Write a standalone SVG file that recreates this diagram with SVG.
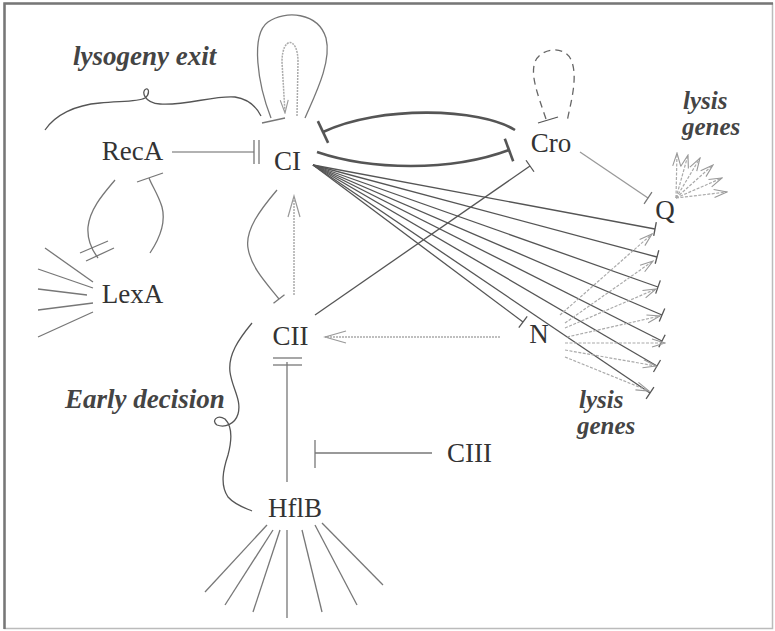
<svg xmlns="http://www.w3.org/2000/svg" width="775" height="631" viewBox="0 0 775 631">
<style>
.node{font-family:"Liberation Serif","Times New Roman",serif;font-size:27px;fill:#333;text-anchor:middle}
.lab{font-family:"Liberation Serif","Times New Roman",serif;font-size:27px;font-style:italic;font-weight:bold;fill:#444}
.lab2{font-family:"Liberation Serif","Times New Roman",serif;font-size:25px;font-style:italic;font-weight:bold;fill:#444}
.thin{fill:none;stroke:#777;stroke-width:1.3}
.gray{fill:none;stroke:#999;stroke-width:1.3}
.dark{fill:none;stroke:#555;stroke-width:1.3}
.thick{fill:none;stroke:#555;stroke-width:2.6}
.dot{fill:none;stroke:#aaa;stroke-width:1.5;stroke-dasharray:2 1}
.fan{fill:none;stroke:#aaa;stroke-width:1.2;stroke-dasharray:3 1.5}
</style>
<defs>
<marker id="teeDark" markerUnits="userSpaceOnUse" viewBox="-2 -8 4 16" refX="0" refY="0" markerWidth="4" markerHeight="16" orient="auto"><path d="M0,-7 L0,7" stroke="#555" stroke-width="1.3"/></marker>
<marker id="teeGray" markerUnits="userSpaceOnUse" viewBox="-2 -8 4 16" refX="0" refY="0" markerWidth="4" markerHeight="16" orient="auto"><path d="M0,-7 L0,7" stroke="#777" stroke-width="1.3"/></marker>
<marker id="teeThick" markerUnits="userSpaceOnUse" viewBox="-2 -13 4 26" refX="0" refY="0" markerWidth="4" markerHeight="26" orient="auto"><path d="M0,-12 L0,12" stroke="#555" stroke-width="2.6"/></marker>
<marker id="arrBig" markerUnits="userSpaceOnUse" viewBox="-1 -1 24 14" refX="21" refY="6" markerWidth="24" markerHeight="14" orient="auto"><path d="M0,0 L21,6 L0,12" fill="none" stroke="#999" stroke-width="1.2"/></marker>
<marker id="arrSmall" markerUnits="userSpaceOnUse" viewBox="-1 -1 15 10" refX="13" refY="4" markerWidth="15" markerHeight="10" orient="auto"><path d="M0,0 L13,4 L0,8" fill="none" stroke="#999" stroke-width="1.1"/></marker>
</defs>
<rect width="775" height="631" fill="#fff"/>
<rect x="4.5" y="3.5" width="768" height="625" fill="none" stroke="#bbb" stroke-width="1.5"/>
<path d="M4.5,629 L4.5,3.5 L773,3.5" fill="none" stroke="#777" stroke-width="2.5"/>

<g id="connectors">
<line class="gray" x1="172" y1="152" x2="254" y2="152"/>
<line class="thin" x1="254" y1="140" x2="254" y2="164"/>
<line class="thin" x1="259" y1="140" x2="259" y2="164"/>
<path class="dark" d="M45,130 C55,115 75,105 100,103 C120,101 138,102 145,98 C150,94 149,88 146,89 C141,91 144,103 160,104 C185,106 215,95 235,97 C248,99 256,106 261,116"/>
<path class="thin" d="M271,118 C258,85 250,35 268,22 C285,10 318,12 326,38 C332,62 315,95 305,118"/>
<line class="thin" x1="262" y1="123" x2="285" y2="118"/>
<path class="dot" d="M297,116 L298,62 C298,36 282,36 282,62 L285,113" marker-end="url(#arrSmall)"/>
<path class="thick" d="M515,130 C480,108 380,105 323,132" marker-end="url(#teeThick)"/>
<path class="thick" d="M317,152 C370,170 450,172 509,150" marker-end="url(#teeThick)"/>
<path fill="none" stroke="#666" stroke-width="1.3" stroke-dasharray="7 5" d="M546,119 C538,95 530,75 535,62 C540,48 566,44 572,62 C578,80 570,105 567,122"/>
<line class="dark" x1="538" y1="123" x2="558" y2="117"/>
<line class="gray" x1="580" y1="152" x2="648" y2="198" marker-end="url(#teeGray)"/>
<line class="dark" x1="315" y1="315" x2="530" y2="166" marker-end="url(#teeDark)"/>
<line class="dark" x1="313" y1="165" x2="655" y2="229" marker-end="url(#teeDark)"/>
<line class="dark" x1="313" y1="165" x2="657" y2="257" marker-end="url(#teeDark)"/>
<line class="dark" x1="313" y1="165" x2="658" y2="287" marker-end="url(#teeDark)"/>
<line class="dark" x1="313" y1="165" x2="662" y2="315" marker-end="url(#teeDark)"/>
<line class="dark" x1="313" y1="165" x2="662" y2="341" marker-end="url(#teeDark)"/>
<line class="dark" x1="313" y1="165" x2="657" y2="366" marker-end="url(#teeDark)"/>
<line class="dark" x1="313" y1="165" x2="650" y2="393" marker-end="url(#teeDark)"/>
<line class="dark" x1="313" y1="165" x2="523" y2="322" marker-end="url(#teeDark)"/>
<line class="fan" x1="560" y1="315" x2="652" y2="234" marker-end="url(#arrSmall)"/>
<line class="fan" x1="565" y1="323" x2="653" y2="261" marker-end="url(#arrSmall)"/>
<line class="fan" x1="565" y1="328" x2="656" y2="289" marker-end="url(#arrSmall)"/>
<line class="fan" x1="567" y1="337" x2="660" y2="316" marker-end="url(#arrSmall)"/>
<line class="fan" x1="565" y1="343" x2="665" y2="343" marker-end="url(#arrSmall)"/>
<line class="fan" x1="565" y1="350" x2="656" y2="366" marker-end="url(#arrSmall)"/>
<line class="fan" x1="565" y1="357" x2="649" y2="391" marker-end="url(#arrSmall)"/>
<line class="fan" x1="676" y1="198" x2="677" y2="153" marker-end="url(#arrSmall)"/>
<line class="fan" x1="676" y1="198" x2="688" y2="155" marker-end="url(#arrSmall)"/>
<line class="fan" x1="676" y1="198" x2="700" y2="158" marker-end="url(#arrSmall)"/>
<line class="fan" x1="676" y1="198" x2="713" y2="165" marker-end="url(#arrSmall)"/>
<line class="fan" x1="676" y1="198" x2="722" y2="178" marker-end="url(#arrSmall)"/>
<line class="fan" x1="676" y1="198" x2="727" y2="192" marker-end="url(#arrSmall)"/>
<line class="dot" x1="500" y1="337" x2="325" y2="337" marker-end="url(#arrBig)"/>
<line class="dot" x1="294" y1="295" x2="294" y2="196" marker-end="url(#arrBig)"/>
<path class="thin" d="M277,190 C260,210 245,230 248,248 C251,268 268,285 279,299" marker-end="url(#teeGray)"/>
<path class="thin" d="M115,180 C105,192 90,208 88,227 C87,240 92,250 98,258"/>
<line class="thin" x1="80" y1="253" x2="108" y2="241"/>
<line class="thin" x1="86" y1="261" x2="114" y2="248"/>
<path class="thin" d="M150,253 C160,238 166,222 162,207 C158,194 152,186 149,178"/>
<line class="thin" x1="137" y1="182" x2="163" y2="173"/>
<line class="thin" x1="45" y1="248" x2="93" y2="282"/>
<line class="thin" x1="38" y1="269" x2="93" y2="288"/>
<line class="thin" x1="38" y1="289" x2="87" y2="295"/>
<line class="thin" x1="38" y1="310" x2="93" y2="303"/>
<line class="thin" x1="38" y1="337" x2="93" y2="312"/>
<line class="thin" x1="287" y1="482" x2="287" y2="362"/>
<line class="thin" x1="273" y1="358" x2="302" y2="358"/>
<line class="thin" x1="273" y1="365" x2="302" y2="365"/>
<line class="thin" x1="432" y1="453" x2="315" y2="453"/>
<line class="thin" x1="315" y1="440" x2="315" y2="468"/>
<line class="thin" x1="267" y1="525" x2="205" y2="592"/>
<line class="thin" x1="273" y1="530" x2="225" y2="605"/>
<line class="thin" x1="280" y1="530" x2="253" y2="612"/>
<line class="thin" x1="287" y1="530" x2="287" y2="618"/>
<line class="thin" x1="302" y1="530" x2="322" y2="612"/>
<line class="thin" x1="315" y1="525" x2="357" y2="605"/>
<line class="thin" x1="322" y1="523" x2="383" y2="585"/>
<path class="dark" d="M252,323 C238,340 228,355 230,372 C232,388 242,400 238,414 C235,424 225,428 217,425 C211,421 217,414 225,419 C232,426 232,440 228,455 C223,470 220,485 228,497 C235,505 245,508 252,511"/>
</g>

<g id="RecA"><text class="node" x="132.5" y="160">RecA</text></g>
<g id="CI"><text class="node" x="287.5" y="170">CI</text></g>
<g id="LexA"><text class="node" x="132.5" y="303">LexA</text></g>
<g id="CII"><text class="node" x="290.5" y="345">CII</text></g>
<g id="HflB"><text class="node" x="295" y="517">HflB</text></g>
<g id="CIII"><text class="node" x="469.5" y="462">CIII</text></g>
<g id="Cro"><text class="node" x="551" y="152">Cro</text></g>
<g id="Q"><text class="node" x="665" y="219">Q</text></g>
<g id="N"><text class="node" x="539" y="343">N</text></g>
<g id="labels">
<text class="lab" x="73" y="65">lysogeny exit</text>
<text class="lab2" x="683" y="109">lysis<tspan x="682" dy="26">genes</tspan></text>
<text class="lab2" x="579" y="408">lysis<tspan x="577" dy="26">genes</tspan></text>
<text class="lab" x="65" y="408">Early decision</text>
</g>
</svg>
